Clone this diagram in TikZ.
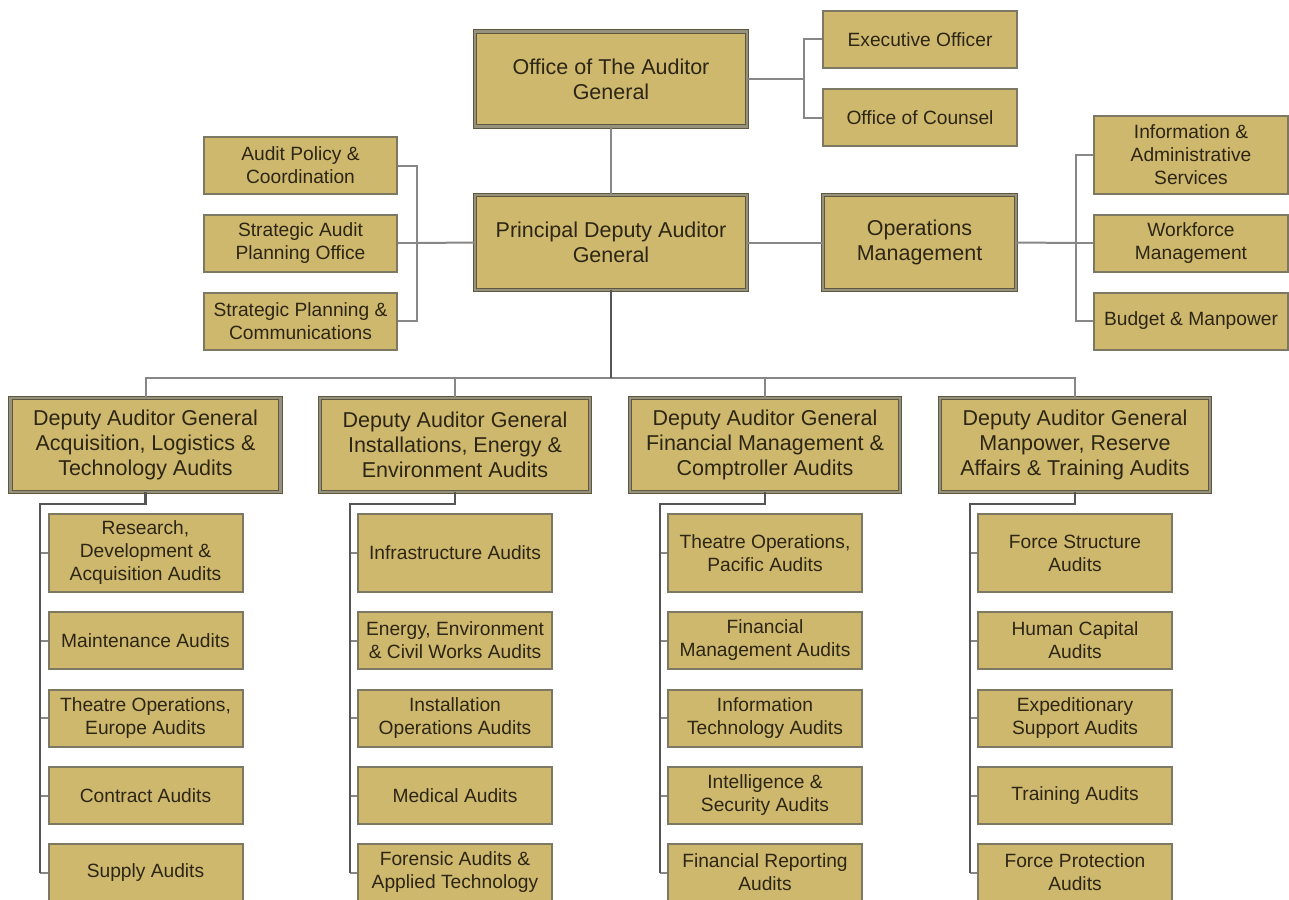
\documentclass[tikz,border=0pt]{standalone}
\usepackage{fontspec}
\setmainfont{Liberation Sans}
\definecolor{boxfill}{RGB}{206,184,110}
\definecolor{boxedge}{RGB}{125,120,100}
\definecolor{bigedge}{RGB}{150,145,125}
\definecolor{bigdark}{RGB}{95,88,65}
\definecolor{txt}{RGB}{45,38,20}
\definecolor{conncol}{RGB}{135,135,135}
\definecolor{trunkcol}{RGB}{85,85,85}
\begin{document}
\begin{tikzpicture}[x=1pt,y=-1pt,
  small/.style={draw=boxedge, line width=2pt, fill=boxfill, text=txt, align=center,
    minimum width=194pt, minimum height=57pt, inner sep=0pt, font=\fontsize{19.2}{23}\selectfont},
  tall/.style={small, minimum height=78pt},
  big/.style={draw=bigdark, line width=0.8pt, double=bigedge, double distance=2.6pt,
    fill=boxfill, text=txt, align=center, inner sep=0pt, font=\fontsize{21.5}{25}\selectfont},
  dep/.style={big, minimum width=270pt, minimum height=94pt},
  link/.style={draw=conncol, line width=2pt},
  trunk/.style={draw=trunkcol, line width=2.5pt}]
\useasboundingbox (0,0) rectangle (1289,899);
\clip (0,0) rectangle (1289,899);
\fill[white] (0,0) rectangle (1289,899);

% top level
\node[big, minimum width=272pt, minimum height=95pt] (oag) at (611,79) {Office of The Auditor\\General};
\node[small] (eo) at (920,39.5) {Executive Officer};
\node[small] (oc) at (920,117.5) {Office of Counsel};
\node[big, minimum width=272pt, minimum height=95pt] (pdag) at (611,242.5) {Principal Deputy Auditor\\General};
\node[big, minimum width=193pt, minimum height=95pt] (om) at (919.5,242.5) {Operations\\Management};
\node[small, minimum width=193pt] (ap) at (300.5,165.5) {Audit Policy \&\\Coordination};
\node[small, minimum width=193pt] (sapo) at (300.5,243) {Strategic Audit\\Planning Office};
\node[small, minimum width=193pt] (spc) at (300.5,321) {Strategic Planning \&\\Communications};
\node[tall] (ias) at (1191,155) {Information \&\\Administrative\\Services};
\node[small] (wm) at (1191,243) {Workforce\\Management};
\node[small] (bm) at (1191,321) {Budget \& Manpower};

% deputies
\node[dep] (d1) at (145.5,445) {Deputy Auditor General\\Acquisition, Logistics \&\\Technology Audits};
\node[dep] (d2) at (455,445) {Deputy Auditor General\\Installations, Energy \&\\Environment Audits};
\node[dep] (d3) at (765,445) {Deputy Auditor General\\Financial Management \&\\Comptroller Audits};
\node[dep] (d4) at (1075,445) {Deputy Auditor General\\Manpower, Reserve\\Affairs \& Training Audits};

% children column 1
\node[tall]  (c11) at (145.5,553)   {Research,\\Development \&\\Acquisition Audits};
\node[small] (c12) at (145.5,640.5) {Maintenance Audits};
\node[small] (c13) at (145.5,718)   {Theatre Operations,\\Europe Audits};
\node[small] (c14) at (145.5,795.5) {Contract Audits};
\node[small] (c15) at (145.5,872.5) {Supply Audits};
% column 2
\node[tall]  (c21) at (455,553)   {Infrastructure Audits};
\node[small] (c22) at (455,640.5) {Energy, Environment\\\& Civil Works Audits};
\node[small] (c23) at (455,718)   {Installation\\Operations Audits};
\node[small] (c24) at (455,795.5) {Medical Audits};
\node[small] (c25) at (455,872.5) {Forensic Audits \&\\Applied Technology};
% column 3
\node[tall]  (c31) at (765,553)   {Theatre Operations,\\Pacific Audits};
\node[small] (c32) at (765,640.5) {Financial\\Management Audits};
\node[small] (c33) at (765,718)   {Information\\Technology Audits};
\node[small] (c34) at (765,795.5) {Intelligence \&\\Security Audits};
\node[small] (c35) at (765,872.5) {Financial Reporting\\Audits};
% column 4
\node[tall]  (c41) at (1075,553)   {Force Structure\\Audits};
\node[small] (c42) at (1075,640.5) {Human Capital\\Audits};
\node[small] (c43) at (1075,718)   {Expeditionary\\Support Audits};
\node[small] (c44) at (1075,795.5) {Training Audits};
\node[small] (c45) at (1075,872.5) {Force Protection\\Audits};

% junction coordinates
\coordinate (jt) at (804,79);
\coordinate (jl) at (417,243);
\coordinate (jr) at (1076,243);
\coordinate (bus) at (611,378);
\coordinate (t1) at (40,504);
\coordinate (t2) at (350,504);
\coordinate (t3) at (660,504);
\coordinate (t4) at (970,504);

% top connectors
\draw[link] (oag.east) -- (jt);
\draw[link] (jt) |- (eo.west);
\draw[link] (jt) |- (oc.west);
\draw[link] (oag.south) -- (pdag.north);
\draw[link] (pdag.west) -- (jl);
\draw[link] (jl) |- (ap.east);
\draw[link] (jl) |- (spc.east);
\draw[link] (sapo.east) -- (jl);
\draw[link] (pdag.east) -- (om.west);
\draw[link] (om.east) -- (jr);
\draw[link] (jr) |- (ias.west);
\draw[link] (jr) |- (bm.west);
\draw[link] (jr) -- (wm.west);

% bus
\draw[link] (bus) -| (d1.north);
\draw[link] (bus) -| (d2.north);
\draw[link] (bus) -| (d3.north);
\draw[link] (bus) -| (d4.north);
\draw[trunk] (pdag.south) -- (bus);

% branches
\foreach \c in {1,2,3,4}{
  \foreach \r in {1,2,3,4,5}{
    \draw[link] (c\c\r.west) -- (c\c\r.west -| t\c);
  }
  \draw[trunk] (d\c.south) |- (t\c) -- (c\c5.west -| t\c);
}
\end{tikzpicture}
\end{document}
